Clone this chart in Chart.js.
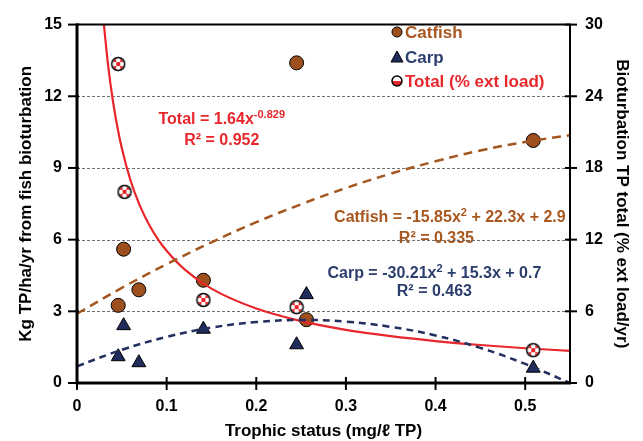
<!DOCTYPE html>
<html>
<head>
<meta charset="utf-8">
<script src="https://cdn.jsdelivr.net/npm/chart.js@4.4.0/dist/chart.umd.min.js"></script>
<style>
  html, body { margin: 0; padding: 0; background: #fff; }
</style>
</head>
<body>
<canvas id="chart" width="643" height="441"></canvas>
<script>
// observed points (left axis: kg TP/ha/yr, right axis: % ext load)
const catfishX = [0.046, 0.052, 0.069, 0.141, 0.245, 0.256, 0.509];
const catfishY = [3.25, 5.6, 3.9, 4.3, 13.4, 2.65, 10.15];
const carpX = [0.046, 0.052, 0.069, 0.141, 0.245, 0.256, 0.509];
const carpY = [1.1, 2.4, 0.85, 2.25, 1.6, 3.7, 0.62];
const totalX = [0.046, 0.053, 0.141, 0.245, 0.509];
const totalY = [26.7, 16.0, 6.95, 6.35, 2.75];

// trend lines
const quadTrendX = [0, 0.05, 0.1, 0.15, 0.2, 0.25, 0.3, 0.35, 0.4, 0.45, 0.5, 0.55];
const catfishTrendY = [2.9, 3.98, 4.97, 5.89, 6.73, 7.48, 8.16, 8.76, 9.28, 9.73, 10.09, 10.37];
const carpTrendY = [0.7, 1.39, 1.93, 2.32, 2.55, 2.64, 2.57, 2.35, 1.99, 1.47, 0.8, 0];
const totalTrendX = [0.03, 0.035, 0.04, 0.045, 0.05, 0.06, 0.07, 0.08, 0.09, 0.1, 0.12, 0.15,
  0.2, 0.25, 0.3, 0.35, 0.4, 0.45, 0.5, 0.55];
const totalTrendY = [30.0, 26.4, 23.65, 21.45, 19.65, 16.89, 14.87, 13.31, 12.07, 11.07, 9.51, 7.9,
  6.23, 5.18, 4.45, 3.92, 3.51, 3.18, 2.91, 2.69];

const xTicks = [0, 0.1, 0.2, 0.3, 0.4, 0.5];
const leftTicks = [0, 3, 6, 9, 12, 15];
const rightTicks = [0, 6, 12, 18, 24, 30];

const FONT = "'Liberation Sans', Arial, Helvetica, sans-serif";
const BROWN = "#9d501d";
const BROWN_TXT = "#a8571f";
const NAVY = "#1f2c5c";
const NAVY_TXT = "#2b3e6d";
const RED = "#e8262b";

function toPoints(xs, ys) {
  return xs.map((x, i) => ({ x: x, y: ys[i] }));
}

function makeTotalMarker() {
  const c = document.createElement("canvas");
  c.width = 16;
  c.height = 16;
  const g = c.getContext("2d");
  g.save();
  g.beginPath();
  g.arc(8, 8, 6.5, 0, Math.PI * 2);
  g.fillStyle = "#fff";
  g.fill();
  g.beginPath();
  g.arc(8, 8, 5.5, 0, Math.PI * 2);
  g.clip();
  for (let i = 0; i < 3; i++) {
    for (let j = 0; j < 3; j++) {
      if ((i + j) % 2 === 0) {
        g.fillStyle = RED;
        g.fillRect(2 + i * 4, 2 + j * 4, 4, 4);
      }
    }
  }
  g.restore();
  g.beginPath();
  g.arc(8, 8, 6.5, 0, Math.PI * 2);
  g.lineWidth = 1.5;
  g.strokeStyle = "#000";
  g.stroke();
  return c;
}

function makeLegendTotal(r) {
  const size = r * 2 + 4;
  const c = document.createElement("canvas");
  c.width = size;
  c.height = size;
  const g = c.getContext("2d");
  const m = size / 2;
  g.beginPath();
  g.arc(m, m, r, 0, Math.PI * 2);
  g.fillStyle = "#fff";
  g.fill();
  g.beginPath();
  g.arc(m, m, r, 0, Math.PI);
  g.fillStyle = RED;
  g.fill();
  g.beginPath();
  g.arc(m, m, r, 0, Math.PI * 2);
  g.lineWidth = 1.5;
  g.strokeStyle = "#000";
  g.stroke();
  return c;
}

const totalMarker = makeTotalMarker();

function drawRuns(ctx, runs, cx, cy, color, size) {
  const supSize = Math.round(size * 0.68);
  let w = 0;
  runs.forEach((r) => {
    ctx.font = "bold " + (r.sup ? supSize : size) + "px " + FONT;
    r.w = ctx.measureText(r.t).width;
    w += r.w;
  });
  let x = cx - w / 2;
  ctx.fillStyle = color;
  ctx.textBaseline = "alphabetic";
  ctx.textAlign = "left";
  runs.forEach((r) => {
    ctx.font = "bold " + (r.sup ? supSize : size) + "px " + FONT;
    ctx.fillText(r.t, x, r.sup ? cy - size * 0.38 : cy);
    x += r.w;
  });
}

const labelsPlugin = {
  id: "eqLabels",
  beforeDraw(chart) {
    const ctx = chart.ctx;
    const sx = chart.scales.x;
    const sy = chart.scales.y;
    const px = (v) => sx.getPixelForValue(v);
    const py = (v) => sy.getPixelForValue(v);
    ctx.save();
    drawRuns(ctx, [{ t: "Total = 1.64x" }, { t: "-0.829", sup: true }], px(0.1615), py(10.85), RED, 16);
    drawRuns(ctx, [{ t: "R² = 0.952" }], px(0.1615), py(9.97), RED, 16);
    drawRuns(ctx, [{ t: "Catfish = -15.85x" }, { t: "2", sup: true }, { t: " + 22.3x + 2.9" }],
      px(0.416), py(6.72), BROWN_TXT, 16);
    drawRuns(ctx, [{ t: "R² = 0.335" }], px(0.401), py(5.86), BROWN_TXT, 16);
    drawRuns(ctx, [{ t: "Carp = -30.21x" }, { t: "2", sup: true }, { t: " + 15.3x + 0.7" }],
      px(0.3987), py(4.41), NAVY_TXT, 16);
    drawRuns(ctx, [{ t: "R² = 0.463" }], px(0.3987), py(3.63), NAVY_TXT, 16);
    ctx.restore();
  },
};

const framePlugin = {
  id: "frame",
  beforeDatasetsDraw(chart) {
    const { ctx, chartArea: a } = chart;
    const sy = chart.scales.y;
    ctx.save();
    ctx.strokeStyle = "#6e6e6e";
    ctx.lineWidth = 1;
    ctx.setLineDash([3, 2]);
    leftTicks.forEach((v) => {
      if (v === 0 || v === 15) return;
      const y = Math.round(sy.getPixelForValue(v)) + 0.5;
      ctx.beginPath();
      ctx.moveTo(a.left, y);
      ctx.lineTo(a.right, y);
      ctx.stroke();
    });
    ctx.restore();
  },
  afterDatasetsDraw(chart) {
    const { ctx, chartArea: a } = chart;
    const sx = chart.scales.x;
    const sy = chart.scales.y;
    const sy2 = chart.scales.y2;
    ctx.save();
    ctx.strokeStyle = "#000";
    ctx.setLineDash([]);
    ctx.lineWidth = 2;
    ctx.beginPath();
    ctx.moveTo(a.left, a.top);
    ctx.lineTo(a.right, a.top);
    ctx.lineTo(a.right, a.bottom);
    ctx.stroke();
    ctx.lineWidth = 3;
    ctx.beginPath();
    ctx.moveTo(a.left, a.top - 1);
    ctx.lineTo(a.left, a.bottom);
    ctx.lineTo(a.right + 1, a.bottom);
    ctx.stroke();
    ctx.lineWidth = 2;
    leftTicks.forEach((v) => {
      const y = sy.getPixelForValue(v);
      ctx.beginPath();
      ctx.moveTo(a.left - 9, y);
      ctx.lineTo(a.left + 2, y);
      ctx.stroke();
    });
    rightTicks.forEach((v) => {
      const y = sy2.getPixelForValue(v);
      ctx.beginPath();
      ctx.moveTo(a.right - 5, y);
      ctx.lineTo(a.right + 7, y);
      ctx.stroke();
    });
    xTicks.forEach((v) => {
      const x = sx.getPixelForValue(v);
      ctx.beginPath();
      ctx.moveTo(x, a.bottom - 6);
      ctx.lineTo(x, a.bottom + 7);
      ctx.stroke();
    });
    ctx.restore();
  },
  afterDraw(chart) {
    // legend
    const ctx = chart.ctx;
    const items = [
      { label: chart.data.datasets[0].label, color: BROWN_TXT, kind: "circle" },
      { label: chart.data.datasets[1].label, color: NAVY_TXT, kind: "triangle" },
      { label: chart.data.datasets[2].label, color: RED, kind: "total" },
    ];
    const mx = 397;
    const tx = 405;
    const ys = [32, 57, 81];
    ctx.save();
    items.forEach((it, i) => {
      const y = ys[i];
      ctx.lineWidth = 1;
      ctx.strokeStyle = "#000";
      if (it.kind === "circle") {
        ctx.beginPath();
        ctx.arc(mx, y, 5, 0, Math.PI * 2);
        ctx.fillStyle = BROWN;
        ctx.fill();
        ctx.stroke();
      } else if (it.kind === "triangle") {
        ctx.beginPath();
        ctx.moveTo(mx, y - 6);
        ctx.lineTo(mx + 6, y + 5);
        ctx.lineTo(mx - 6, y + 5);
        ctx.closePath();
        ctx.fillStyle = NAVY;
        ctx.fill();
        ctx.stroke();
      } else {
        const img = makeLegendTotal(5);
        ctx.drawImage(img, mx - img.width / 2, y - img.height / 2);
      }
      ctx.font = "bold 17px " + FONT;
      ctx.fillStyle = it.color;
      ctx.textBaseline = "middle";
      ctx.textAlign = "left";
      ctx.fillText(it.label, tx, y + 1);
    });
    ctx.restore();
  },
};

const tickFont = { family: FONT, size: 16, weight: "bold" };
const titleFont = { family: FONT, size: 17, weight: "bold" };

new Chart(document.getElementById("chart"), {
  type: "scatter",
  data: {
    datasets: [
      {
        label: "Catfish",
        data: toPoints(catfishX, catfishY),
        yAxisID: "y",
        pointStyle: "circle",
        pointRadius: 7,
        backgroundColor: BROWN,
        borderColor: "#000",
        borderWidth: 1,
        order: 3,
      },
      {
        label: "Carp",
        data: toPoints(carpX, carpY),
        yAxisID: "y",
        pointStyle: "triangle",
        pointRadius: 8,
        backgroundColor: NAVY,
        borderColor: "#000",
        borderWidth: 1,
        order: 3,
      },
      {
        label: "Total (% ext load)",
        data: toPoints(totalX, totalY),
        yAxisID: "y2",
        pointStyle: totalMarker,
        order: 0,
      },
      {
        label: "Catfish trend",
        data: toPoints(quadTrendX, catfishTrendY),
        yAxisID: "y",
        showLine: true,
        pointRadius: 0,
        borderColor: "#a4561f",
        borderWidth: 2.5,
        borderDash: [9, 6],
        tension: 0.4,
        order: 1,
      },
      {
        label: "Carp trend",
        data: toPoints(quadTrendX, carpTrendY),
        yAxisID: "y",
        showLine: true,
        pointRadius: 0,
        borderColor: "#23305f",
        borderWidth: 2.5,
        borderDash: [7, 5],
        tension: 0.4,
        order: 1,
      },
      {
        label: "Total trend",
        data: toPoints(totalTrendX, totalTrendY),
        yAxisID: "y2",
        showLine: true,
        pointRadius: 0,
        borderColor: RED,
        borderWidth: 2.2,
        cubicInterpolationMode: "monotone",
        order: 1,
      },
    ],
  },
  options: {
    responsive: false,
    animation: false,
    layout: { padding: { top: 19, left: 0, right: 0, bottom: 0 } },
    plugins: {
      legend: { display: false },
      tooltip: { enabled: false },
    },
    scales: {
      x: {
        type: "linear",
        min: 0,
        max: 0.55,
        afterFit: (s) => { s.height = 58; },
        afterBuildTicks: (s) => { s.ticks = xTicks.map((v) => ({ value: v })); },
        grid: { display: false, drawTicks: false },
        border: { display: false },
        ticks: {
          color: "#000",
          font: tickFont,
          padding: 14,
          callback: (v) => (v === 0 ? "0" : v.toFixed(1)),
        },
        title: {
          display: true,
          text: "Trophic status (mg/ℓ TP)",
          color: "#000",
          font: titleFont,
          padding: { top: 0, bottom: -1 },
        },
      },
      y: {
        type: "linear",
        position: "left",
        min: 0,
        max: 15,
        afterFit: (s) => { s.width = 77; },
        afterBuildTicks: (s) => { s.ticks = leftTicks.map((v) => ({ value: v })); },
        grid: { display: false, drawTicks: false },
        border: { display: false },
        ticks: { color: "#000", font: tickFont, padding: 15 },
        title: {
          display: true,
          text: "Kg TP/ha/yr from fish bioturbation",
          color: "#000",
          font: titleFont,
          padding: { top: 16, bottom: 0 },
        },
      },
      y2: {
        type: "linear",
        position: "right",
        min: 0,
        max: 30,
        afterFit: (s) => { s.width = 73; },
        afterBuildTicks: (s) => { s.ticks = rightTicks.map((v) => ({ value: v })); },
        grid: { display: false, drawTicks: false },
        border: { display: false },
        ticks: { color: "#000", font: tickFont, padding: 15 },
        title: {
          display: true,
          text: "Bioturbation TP total (% ext load/yr)",
          color: "#000",
          font: titleFont,
          padding: { top: 11, bottom: 0 },
        },
      },
    },
  },
  plugins: [labelsPlugin, framePlugin],
});
</script>
</body>
</html>
